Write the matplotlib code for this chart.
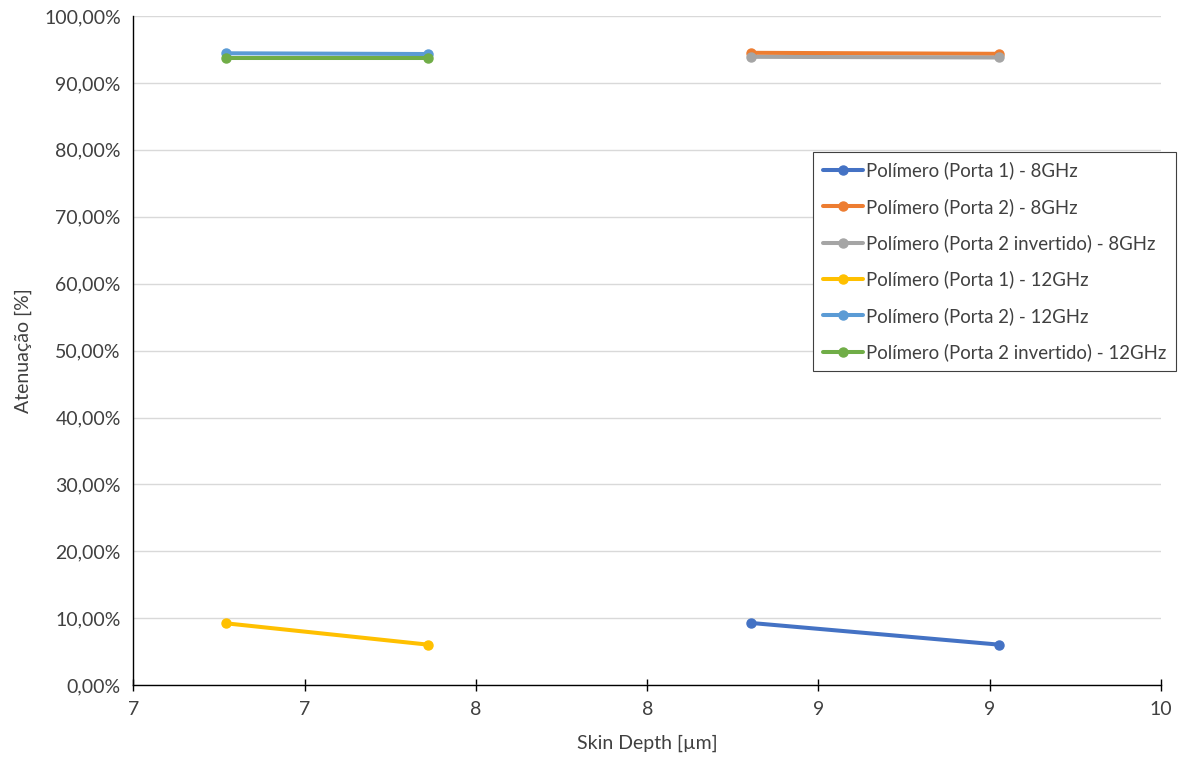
import matplotlib
matplotlib.use("Agg")
import matplotlib.pyplot as plt
from matplotlib.ticker import FuncFormatter

plt.rcParams['font.family'] = ['Lato', 'DejaVu Sans']

# Skin depth [µm] at each frequency (two samples per series)
skin_8ghz = [8.303, 9.027]
skin_12ghz = [6.770, 7.360]

# Attenuation values (fraction)
p1_8 = [0.0931, 0.0607]
p2_8 = [0.9450, 0.9435]
p2inv_8 = [0.9390, 0.9380]
p1_12 = [0.0926, 0.0607]
p2_12 = [0.9443, 0.9432]
p2inv_12 = [0.9377, 0.9377]

series_labels = [
    "Polímero (Porta 1) - 8GHz",
    "Polímero (Porta 2) - 8GHz",
    "Polímero (Porta 2 invertido) - 8GHz",
    "Polímero (Porta 1) - 12GHz",
    "Polímero (Porta 2) - 12GHz",
    "Polímero (Porta 2 invertido) - 12GHz",
]
series_colors = ["#4472C4", "#ED7D31", "#A5A5A5", "#FFC000", "#5B9BD5", "#70AD47"]

x_ticks = [6.5, 7.0, 7.5, 8.0, 8.5, 9.0, 9.5]
x_tick_labels = ["7", "7", "8", "8", "9", "9", "10"]
y_ticks = [0.0, 0.1, 0.2, 0.3, 0.4, 0.5, 0.6, 0.7, 0.8, 0.9, 1.0]

fig = plt.figure(figsize=(11.82, 7.62), dpi=100)
ax = fig.add_axes([0.1128, 0.1007, 0.8695, 0.8783])

series = [
    (skin_8ghz, p1_8), (skin_8ghz, p2_8), (skin_8ghz, p2inv_8),
    (skin_12ghz, p1_12), (skin_12ghz, p2_12), (skin_12ghz, p2inv_12),
]
for (xs, ys), lab, col in zip(series, series_labels, series_colors):
    ax.plot(xs, ys, color=col, lw=2.9, marker='o', ms=6.5, label=lab,
            solid_capstyle='round', zorder=3)

ax.set_xlim(6.5, 9.5)
ax.set_ylim(0, 1.0)
ax.set_xticks(x_ticks)
ax.set_xticklabels(x_tick_labels)
ax.set_yticks(y_ticks)
ax.yaxis.set_major_formatter(FuncFormatter(lambda v, p: f"{v*100:.2f}%".replace('.', ',')))

ax.grid(axis='y', color='#D9D9D9', lw=1)
ax.set_axisbelow(True)
for s in ['top', 'right']:
    ax.spines[s].set_visible(False)
for s in ['left', 'bottom']:
    ax.spines[s].set_color('black')
    ax.spines[s].set_linewidth(1.0)

ax.tick_params(axis='x', direction='inout', length=9, width=1, labelsize=14,
               pad=7, colors='black')
ax.tick_params(axis='y', length=0, labelsize=14, pad=9, colors='black')
for t in ax.get_xticklabels() + ax.get_yticklabels():
    t.set_color('#404040')

ax.set_xlabel("Skin Depth [µm]", fontsize=14, color='#404040', labelpad=12)
ax.set_ylabel("Atenuação [%]", fontsize=14, color='#404040', labelpad=9)

leg = ax.legend(loc='upper left', bbox_to_anchor=(0.688, 0.800),
                bbox_transform=fig.transFigure, fontsize=13.4, frameon=True,
                fancybox=False, edgecolor='#404040', framealpha=1,
                handlelength=2.2, handletextpad=0.15, labelspacing=0.99,
                borderpad=0.5, borderaxespad=0)
leg.get_frame().set_linewidth(0.8)
for t in leg.get_texts():
    t.set_color('#404040')

fig.savefig("out.png", dpi=100)
